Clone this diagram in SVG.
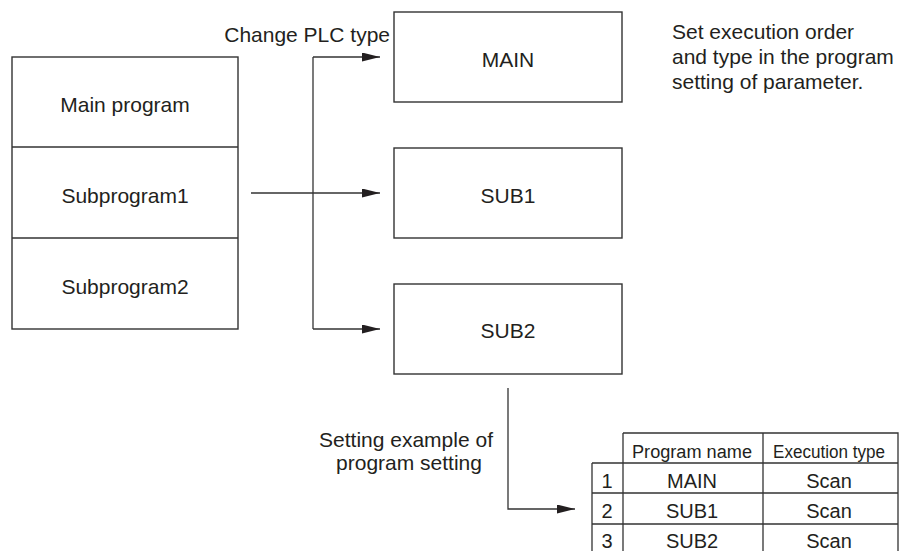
<svg xmlns="http://www.w3.org/2000/svg" width="900" height="551" viewBox="0 0 900 551">
<style>
  .box { fill: #fff; stroke: #333; stroke-width: 1.4; }
  .ln { fill: none; stroke: #333; stroke-width: 1.3; }
  .t { font-family: "Liberation Sans", Arial, sans-serif; font-size: 21px; fill: #231f20; }
  .c { text-anchor: middle; }
  .th { font-family: "Liberation Sans", Arial, sans-serif; font-size: 18px; fill: #231f20; }
  .td { font-family: "Liberation Sans", Arial, sans-serif; font-size: 20px; fill: #231f20; text-anchor: middle; }
</style>
<defs>
  <marker id="ah" markerUnits="userSpaceOnUse" markerWidth="19" markerHeight="10" refX="18" refY="4.5" orient="auto">
    <polygon points="0,0 18,4.5 0,9" fill="#231f20"/>
  </marker>
</defs>
<rect width="900" height="551" fill="#fff"/>

<g id="program-stack">
  <rect class="box" x="12" y="57" width="226" height="272"/>
  <line class="ln" x1="12" y1="147" x2="238" y2="147"/>
  <line class="ln" x1="12" y1="238" x2="238" y2="238"/>
  <text class="t c" x="125" y="112">Main program</text>
  <text class="t c" x="125" y="203">Subprogram1</text>
  <text class="t c" x="125" y="294">Subprogram2</text>
</g>

<g id="main">
  <rect class="box" x="394" y="12" width="228" height="90"/>
  <text class="t c" x="508" y="67">MAIN</text>
</g>
<g id="sub1">
  <rect class="box" x="394" y="148" width="228" height="90"/>
  <text class="t c" x="508" y="203">SUB1</text>
</g>
<g id="sub2">
  <rect class="box" x="394" y="284" width="228" height="90"/>
  <text class="t c" x="508" y="338">SUB2</text>
</g>

<g id="labels">
  <text class="t" x="390" y="42" text-anchor="end">Change PLC type</text>
  <text class="t" x="672" y="39">Set execution order</text>
  <text class="t" x="672" y="64">and type in the program</text>
  <text class="t" x="672" y="89">setting of parameter.</text>
  <text class="t c" x="406" y="447">Setting example of</text>
  <text class="t c" x="409" y="470">program setting</text>
</g>

<g id="connectors">
  <path class="ln" d="M313,57 L313,329"/>
  <path class="ln" d="M313,57 L380,57" marker-end="url(#ah)"/>
  <path class="ln" d="M313,329 L380,329" marker-end="url(#ah)"/>
  <path class="ln" d="M251,193 L380,193" marker-end="url(#ah)"/>
  <path class="ln" d="M508,388 L508,509 L575,509" marker-end="url(#ah)"/>
</g>

<g id="settings-table">
  <path class="ln" d="M623,433 L898,433 L898,556 M623,433 L623,556 M763,433 L763,556 M592,463 L898,463 M592,463 L592,556 M592,493 L898,493 M592,524 L898,524"/>
  <text class="th c" x="692" y="458" textLength="120" lengthAdjust="spacingAndGlyphs">Program name</text>
  <text class="th c" x="829" y="458" textLength="112" lengthAdjust="spacingAndGlyphs">Execution type</text>
  <text class="td" x="607" y="488">1</text>
  <text class="td" x="692" y="488">MAIN</text>
  <text class="td" x="829" y="488">Scan</text>
  <text class="td" x="607" y="518">2</text>
  <text class="td" x="692" y="518">SUB1</text>
  <text class="td" x="829" y="518">Scan</text>
  <text class="td" x="607" y="548">3</text>
  <text class="td" x="692" y="548">SUB2</text>
  <text class="td" x="829" y="548">Scan</text>
</g>
</svg>
